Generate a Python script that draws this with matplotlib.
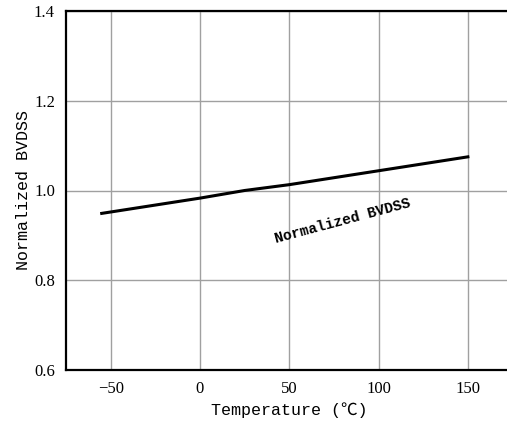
import matplotlib
matplotlib.use("Agg")
import matplotlib.pyplot as plt

temps = [-55, 0, 25, 50, 100, 150]
bvdss = [0.949, 0.983, 1.000, 1.013, 1.044, 1.075]
xticks = [-50, 0, 50, 100, 150]
yticks = [0.6, 0.8, 1.0, 1.2, 1.4]
ytick_labels = ["0.6", "0.8", "1.0", "1.2", "1.4"]

mono = ['Liberation Mono', 'Noto Sans CJK SC', 'DejaVu Sans']
serif = ['Liberation Serif', 'DejaVu Serif']

fig = plt.figure(figsize=(5.07, 4.24), dpi=100)
ax = fig.add_axes([66/507, 54/424, 446.5/507, 359/424])
ax.plot(temps, bvdss, color='black', lw=2.2)
ax.set_xlim(-75, 175)
ax.set_ylim(0.6, 1.4)
ax.set_xticks(xticks)
ax.set_yticks(yticks)
ax.set_yticklabels(ytick_labels)
ax.grid(True, color='#a0a0a0', lw=1)
ax.tick_params(length=0, pad=8, labelsize=12)
for lab in ax.get_xticklabels() + ax.get_yticklabels():
    lab.set_family(serif)
for s in ['left', 'bottom', 'top']:
    ax.spines[s].set_linewidth(1.6)
    ax.spines[s].set_color('black')
ax.spines['right'].set_visible(False)
ax.set_xlabel('Temperature (℃)', family=mono, fontsize=12, labelpad=4)
ax.set_ylabel('Normalized BVDSS', family=mono, fontsize=12)
ax.yaxis.set_label_coords(-0.078, 0.5)
ax.text(80, 0.931, 'Normalized BVDSS', family=mono, fontsize=10.5, fontweight='bold',
        rotation=15, ha='center', va='center')
fig.savefig('out.png', dpi=100)
